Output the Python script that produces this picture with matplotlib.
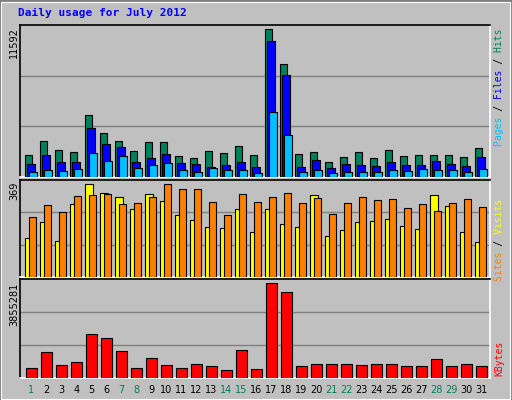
import matplotlib
matplotlib.use("Agg")
import matplotlib.pyplot as plt
from matplotlib.patches import Rectangle
import numpy as np

days = list(range(1, 32))
weekend = [1, 7, 8, 14, 15, 21, 22, 28, 29]
hits = [1756, 2856, 2148, 1991, 4900, 3485, 2856, 2070, 2777, 2777, 1677, 1520, 2070, 1913, 2463, 1756,
        11592, 8908, 1834, 1991, 1205, 1598, 1991, 1520, 2148, 1677, 1756, 1756, 1756, 1598, 2306]
files = [1048, 1756, 1205, 1205, 3878, 2620, 2384, 1205, 1520, 1834, 1127, 1048, 812, 969, 1205, 812,
         10637, 8043, 812, 1362, 734, 1048, 969, 891, 1205, 969, 969, 1284, 1048, 891, 1598]
pages = [419, 576, 498, 655, 1913, 1284, 1677, 734, 969, 1127, 576, 419, 734, 576, 576, 341,
         5135, 3327, 419, 576, 341, 419, 419, 419, 576, 498, 655, 576, 576, 419, 655]
visits = [156, 220, 144, 288, 369, 332, 316, 268, 328, 300, 248, 228, 200, 196, 268, 180,
          268, 212, 200, 324, 164, 188, 220, 224, 232, 204, 192, 324, 280, 180, 140]
sites = [240, 284, 256, 320, 324, 328, 288, 292, 316, 369, 348, 348, 296, 248, 328, 296,
         316, 332, 292, 312, 252, 292, 316, 304, 308, 272, 288, 260, 292, 308, 276]
kbytes = [392535, 1065444, 518703, 644874, 1780413, 1612185, 1107501, 392535, 813102, 518703, 392535,
          560760, 476646, 308418, 1149558, 350475, 3855281, 3504750, 476646, 560760, 560760, 560760,
          518703, 560760, 560760, 476646, 476646, 771045, 476646, 560760, 476646]

BG = "#C0C0C0"
fig = plt.figure(figsize=(5.12, 4.0), dpi=100, facecolor=BG)
W, H = 512, 400

# outer bevel
fig.patches.append(Rectangle((0, 0), 1, 1, transform=fig.transFigure, fill=False, ec="#808080", lw=2))
fig.patches.append(Rectangle((1/W, 1/H), 1-3/W, 1-3/H, transform=fig.transFigure, fill=False, ec="white", lw=0.8))

fig.text(18/W, 1-16/H, "Daily usage for July 2012", color="#0000FF", fontsize=8, fontweight="bold",
         family="DejaVu Sans Mono", va="baseline", ha="left")

def panel(top, bottom):
    ax = fig.add_axes([20/W, 1-bottom/H, 470/W, (bottom-top)/H])
    ax.set_facecolor(BG)
    ax.set_xlim(1-5/15, 1-5/15+470/15)
    ax.set_xticks([]); ax.set_yticks([])
    for s in ["top", "left"]:
        ax.spines[s].set_color("black")
    for s in ["bottom", "right"]:
        ax.spines[s].set_color("white")
    for s in ax.spines.values():
        s.set_linewidth(1.2)
    return ax

x = np.array(days, dtype=float)
ek = dict(edgecolor="black", linewidth=0.8, align="edge", zorder=3)

ax1 = panel(25, 177)
ymax1 = 11592 * 151.7 / 147.4
ax1.set_ylim(0, ymax1)
for g in (ymax1/3, 2*ymax1/3):
    ax1.axhline(g, color="#808080", lw=1, zorder=1)
ax1.bar(x, hits, 0.49, color="#00805C", **ek)
ax1.bar(x+0.155, files, 0.49, color="#0000FF", **ek)
ax1.bar(x+0.29, pages, 0.49, color="#00C0FF", **ek)

ax2 = panel(180, 277)
ymax2 = 369 * 96.3 / 92.3
ax2.set_ylim(0, ymax2)
for g in (ymax2/3, 2*ymax2/3):
    ax2.axhline(g, color="#808080", lw=1, zorder=1)
ax2.bar(x+0.02, visits, 0.49, color="#FFFF00", **ek)
ax2.bar(x+0.27, sites, 0.49, color="#FF8000", **ek)

ax3 = panel(279, 378)
ymax3 = 3855281 * 96 / 91.7
ax3.set_ylim(0, ymax3)
for g in (ymax3/3, 2*ymax3/3):
    ax3.axhline(g, color="#808080", lw=1, zorder=1)
ax3.bar(x+0.07, kbytes, 0.71, color="#FF0000", **ek)

for d in days:
    ax3.text(d+0.42, -0.12, str(d), transform=ax3.get_xaxis_transform(), ha="center", va="center",
             fontsize=7, color="#00805C" if d in weekend else "black")

# left max labels
for txt, ytop in (("11592", 27), ("369", 182), ("3855281", 283)):
    fig.text(14/W, 1-ytop/H, txt, rotation=90, ha="center", va="top", fontsize=7, color="black")

# right legend labels (monospace pieces)
def rlabel(full, parts, ytop):
    for piece, col in parts:
        fig.text(499/W, 1-ytop/H, piece, rotation=90, ha="center", va="top", fontsize=7,
                 family="DejaVu Sans Mono", color=col)

def mask(full, keep):
    return "".join(c if keep[i] else " " for i, c in enumerate(full))

def seg(full, start, end):
    return "".join(c if start <= i < end else " " for i, c in enumerate(full))

s1 = "Pages / Files / Hits"
rlabel(s1, [(seg(s1, 0, 5), "#00C0FF"), (seg(s1, 6, 7), "black"), (seg(s1, 8, 13), "#0000FF"),
            (seg(s1, 14, 15), "black"), (seg(s1, 16, 20), "#00805C")], 28)
s2 = "Sites / Visits"
rlabel(s2, [(seg(s2, 0, 5), "#FF8000"), (seg(s2, 6, 7), "black"), (seg(s2, 8, 14), "#FFFF00")], 199)
s3 = "KBytes"
rlabel(s3, [(s3, "#FF0000")], 341)

fig.savefig("out.png", dpi=100, facecolor=BG)
